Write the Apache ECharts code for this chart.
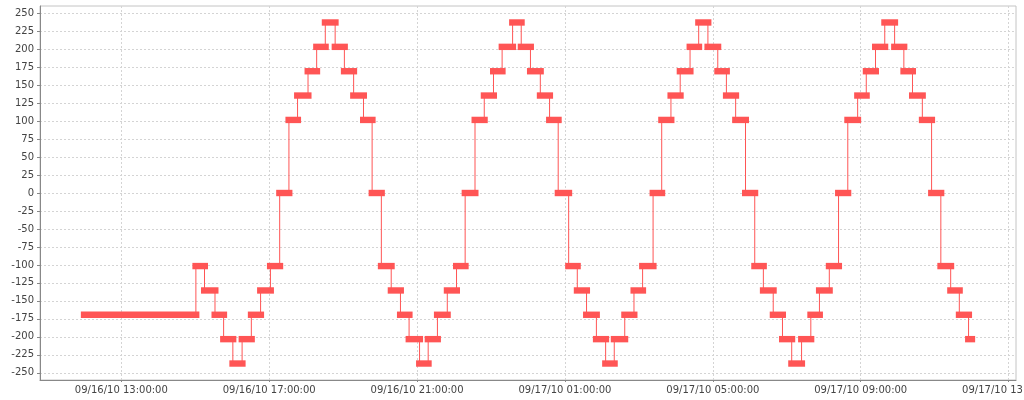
<!DOCTYPE html>
<html><head><meta charset="utf-8">
<script src="https://cdn.jsdelivr.net/npm/echarts@6/dist/echarts.min.js"></script>
<style>html,body{margin:0;padding:0;background:#fff}#c{width:1024px;height:400px}</style>
</head><body><div id="c"></div>
<script>
// Time of each step (the value changes at this moment)
const stepTimes = [
  '09/16 12:00',
  '09/16 15:01','09/16 15:15','09/16 15:32','09/16 15:46','09/16 16:01','09/16 16:16','09/16 16:31','09/16 16:46',
  '09/16 17:02','09/16 17:17','09/16 17:32','09/16 17:46','09/16 18:03','09/16 18:17','09/16 18:31','09/16 18:47',
  '09/16 19:02','09/16 19:17','09/16 19:33','09/16 19:47','09/16 20:02','09/16 20:18','09/16 20:33','09/16 20:47',
  '09/16 21:04','09/16 21:18','09/16 21:33','09/16 21:49','09/16 22:04','09/16 22:18','09/16 22:34','09/16 22:49',
  '09/16 23:04','09/16 23:18','09/16 23:35','09/16 23:49',
  '09/17 00:04','09/17 00:20','09/17 00:35','09/17 00:49','09/17 01:06','09/17 01:20','09/17 01:35','09/17 01:51',
  '09/17 02:06','09/17 02:20','09/17 02:37','09/17 02:52','09/17 03:06','09/17 03:23','09/17 03:37','09/17 03:52',
  '09/17 04:07','09/17 04:23','09/17 04:37','09/17 04:52','09/17 05:08','09/17 05:22','09/17 05:37','09/17 05:53',
  '09/17 06:08','09/17 06:22','09/17 06:38','09/17 06:53','09/17 07:08','09/17 07:24','09/17 07:39','09/17 07:53',
  '09/17 08:09','09/17 08:24','09/17 08:39','09/17 08:55','09/17 09:09','09/17 09:24','09/17 09:39','09/17 09:55',
  '09/17 10:10','09/17 10:24','09/17 10:40','09/17 10:55','09/17 11:10','09/17 11:26','09/17 11:40','09/17 11:55',
  '09/17 12:00'
];
const stepValues = [
  -169.3,
  -101.6,-135.5,-169.3,-203.2,-237.1,-203.2,-169.3,-135.5,-101.6,0,101.6,135.5,169.3,203.2,237.1,203.2,169.3,135.5,101.6,0,
  -101.6,-135.5,-169.3,-203.2,-237.1,-203.2,-169.3,-135.5,-101.6,0,101.6,135.5,169.3,203.2,237.1,203.2,169.3,135.5,101.6,0,
  -101.6,-135.5,-169.3,-203.2,-237.1,-203.2,-169.3,-135.5,-101.6,0,101.6,135.5,169.3,203.2,237.1,203.2,169.3,135.5,101.6,0,
  -101.6,-135.5,-169.3,-203.2,-237.1,-203.2,-169.3,-135.5,-101.6,0,101.6,135.5,169.3,203.2,237.1,203.2,169.3,135.5,101.6,0,
  -101.6,-135.5,-169.3,-203.2,
  -203.2
];
const xTickLabels = ['09/16/10 13:00:00','09/16/10 17:00:00','09/16/10 21:00:00','09/17/10 01:00:00',
                     '09/17/10 05:00:00','09/17/10 09:00:00','09/17/10 13:00:00'];
const yTicks = [-250,-225,-200,-175,-150,-125,-100,-75,-50,-25,0,25,50,75,100,125,150,175,200,225,250];

// hours after 09/16/10 13:00
function toHours(s){
  const day = parseInt(s.slice(3,5),10);
  const hh = parseInt(s.slice(6,8),10);
  const mm = parseInt(s.slice(9,11),10);
  return (day-16)*24 + hh + mm/60 - 13;
}
const xs = stepTimes.map(toHours);
const lineData = xs.map((x,i)=>[x, stepValues[i]]);
const barData = [];
for (let i=0;i<xs.length-1;i++) barData.push([xs[i], xs[i+1], stepValues[i]]);
const xTickVals = xTickLabels.map((_,i)=>i*4);

const RED = '#FF5555';
const labelStyle = {color:'#444', fontFamily:'DejaVu Sans', fontSize:10};
const chart = echarts.init(document.getElementById('c'), null, {renderer:'canvas'});
chart.setOption({
  animation:false,
  backgroundColor:'#fff',
  grid:{left:40, right:8, top:6, bottom:20, containLabel:false, outerBoundsMode:'none',
        show:true, borderColor:'#c4c4c4', borderWidth:1, backgroundColor:'#fff'},
  xAxis:{
    type:'value', min:-2.2, max:24.2,
    axisLine:{show:true, onZero:false, lineStyle:{color:'#888', width:1}},
    axisTick:{show:true, length:2, lineStyle:{color:'#888'}, customValues:xTickVals},
    axisLabel:Object.assign({margin:5, customValues:xTickVals, hideOverlap:false,
      formatter:(v)=>{const k=Math.round(v/4); return (Math.abs(v-k*4)<1e-6 && xTickLabels[k])?xTickLabels[k]:'';}}, labelStyle),
    splitLine:{show:true, lineStyle:{color:'#d4d4d4', type:[2,2], width:1}}
  },
  yAxis:{
    type:'value', min:-260, max:260,
    axisLine:{show:true, onZero:false, lineStyle:{color:'#888', width:1}},
    axisTick:{show:true, length:3, lineStyle:{color:'#888'}, customValues:yTicks},
    axisLabel:Object.assign({margin:6, customValues:yTicks}, labelStyle),
    splitLine:{show:true, lineStyle:{color:'#d4d4d4', type:[2,2], width:1}}
  },
  series:[
    {type:'line', step:'end', data:lineData, showSymbol:false, symbol:'none',
     lineStyle:{color:RED, width:1}, z:2, silent:true},
    {type:'custom', data:barData, encode:{x:[0,1], y:2}, z:3, silent:true,
     renderItem:function(params, api){
       const s = api.coord([api.value(0), api.value(2)]);
       const e = api.coord([api.value(1), api.value(2)]);
       return {type:'rect', shape:{x:s[0]-3.5, y:s[1]-3.2, width:e[0]-s[0]+7, height:6.4},
               style:{fill:RED}};
     }}
  ]
});
</script></body></html>
